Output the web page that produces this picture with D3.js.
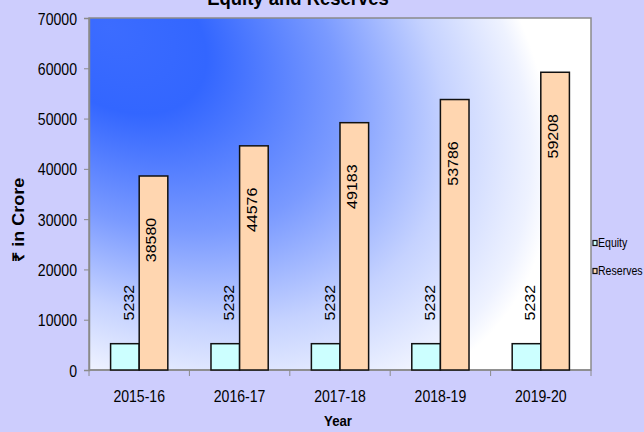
<!DOCTYPE html>
<html>
<head>
<meta charset="utf-8">
<script src="https://cdn.jsdelivr.net/npm/d3@7"></script>
<style>
  body { margin: 0; background: #cdcdfd; }
  text { font-family: 'Liberation Sans', Arial, sans-serif; fill: #000; }
</style>
</head>
<body>
<svg width="644" height="432"></svg>
<script>
const years = ['2015-16', '2016-17', '2017-18', '2018-19', '2019-20'];
const equity = [5232, 5232, 5232, 5232, 5232];
const reserves = [38580, 44576, 49183, 53786, 59208];
const seriesNames = ['Equity', 'Reserves'];
const yTicks = [0, 10000, 20000, 30000, 40000, 50000, 60000, 70000];

const svg = d3.select('svg');
const width = +svg.attr('width');
const height = +svg.attr('height');

// plot area (the source image is a bit squeezed sideways, so text gets scaleX)
const plot = {left: 89, right: 591, top: 18, bottom: 370};
const squeeze = 0.88;
const colors = {Equity: '#ccffff', Reserves: '#ffd6b0'};

const data = years.map((y, i) => ({year: y, Equity: equity[i], Reserves: reserves[i]}));

svg.append('rect')
  .attr('width', width).attr('height', height)
  .attr('fill', '#cdcdfd');

// "from corner" fill of the plot area
const defs = svg.append('defs');
const grad = defs.append('radialGradient')
  .attr('id', 'plotFill')
  .attr('gradientUnits', 'userSpaceOnUse')
  .attr('cx', 0).attr('cy', 0).attr('r', 1)
  .attr('gradientTransform', `translate(${plot.left + 20},${plot.top + 10}) rotate(35) scale(490,330)`);
[[0, '#3c6cff'], [0.22, '#3366ff'], [0.52, '#7a9aff'], [0.76, '#c5d2ff'], [0.95, '#eef2ff'], [1, '#ffffff']]
  .forEach(([o, c]) => grad.append('stop').attr('offset', o).attr('stop-color', c));

svg.append('rect')
  .attr('x', plot.left).attr('y', plot.top)
  .attr('width', plot.right - plot.left).attr('height', plot.bottom - plot.top)
  .attr('fill', 'url(#plotFill)')
  .attr('stroke', '#8a8a8a')
  .attr('stroke-width', 1.5);

const xScale = d3.scaleBand()
  .domain(years)
  .range([plot.left, plot.right])
  .paddingInner(0.43)
  .paddingOuter(0.215);

const xSub = d3.scaleBand()
  .domain(seriesNames)
  .range([0, xScale.bandwidth()]);

const yScale = d3.scaleLinear()
  .domain([0, 70000])
  .range([plot.bottom, plot.top]);

const sText = (sel, x, y, rot) =>
  sel.attr('transform', `translate(${x},${y}) scale(${squeeze},1)` + (rot ? ` rotate(${rot})` : ''));

// y axis
const yAxisG = svg.append('g')
  .attr('transform', `translate(${plot.left},0)`)
  .call(d3.axisLeft(yScale).tickValues(yTicks).tickSize(5).tickPadding(8).tickFormat(d3.format('d')));
yAxisG.select('.domain').attr('stroke', '#8a8a8a').attr('stroke-width', 1.5);
yAxisG.selectAll('.tick line').attr('stroke', '#8a8a8a');
yAxisG.selectAll('.tick text')
  .attr('font-size', 16)
  .attr('x', 0).attr('dy', null).attr('y', 6)
  .attr('transform', `translate(-12,0) scale(${squeeze},1)`);

// x axis: ticks at category boundaries
const step = xScale.step();
const xAxisG = svg.append('g');
xAxisG.append('line')
  .attr('x1', plot.left).attr('x2', plot.right)
  .attr('y1', plot.bottom).attr('y2', plot.bottom)
  .attr('stroke', '#8a8a8a').attr('stroke-width', 1.5);
xAxisG.selectAll('line.tick')
  .data(d3.range(years.length + 1))
  .join('line')
  .attr('class', 'tick')
  .attr('x1', i => plot.left + i * step).attr('x2', i => plot.left + i * step)
  .attr('y1', plot.bottom).attr('y2', plot.bottom + 6)
  .attr('stroke', '#8a8a8a');
xAxisG.selectAll('text')
  .data(years)
  .join('text')
  .attr('font-size', 16)
  .attr('text-anchor', 'middle')
  .text(d => d)
  .each(function(d) { sText(d3.select(this), xScale(d) + xScale.bandwidth() / 2, 402); });

// bars
const groups = svg.append('g')
  .selectAll('g')
  .data(data)
  .join('g')
  .attr('transform', d => `translate(${xScale(d.year)},0)`);

groups.selectAll('rect')
  .data(d => seriesNames.map(k => ({key: k, value: d[k]})))
  .join('rect')
  .attr('x', d => xSub(d.key))
  .attr('y', d => yScale(d.value))
  .attr('width', xSub.bandwidth())
  .attr('height', d => plot.bottom - yScale(d.value))
  .attr('fill', d => colors[d.key])
  .attr('stroke', '#111')
  .attr('stroke-width', 1.5);

// rotated value labels
groups.selectAll('text')
  .data(d => seriesNames.map(k => ({key: k, value: d[k]})))
  .join('text')
  .attr('font-size', 16)
  .attr('text-anchor', 'middle')
  .attr('dy', '0.35em')
  .text(d => d.value)
  .each(function(d) {
    const cx = xSub(d.key) + xSub.bandwidth() / 2 + (d.key === 'Equity' ? 4 : -2);
    const cy = d.key === 'Equity' ? yScale(d.value) - 41 : yScale(d.value) + 64;
    sText(d3.select(this), cx, cy, -90);
  });

// title (cut at the top edge, as in the source) and axis labels
svg.append('text')
  .attr('font-size', 21).attr('font-weight', 'bold')
  .attr('text-anchor', 'middle')
  .text('Equity and Reserves')
  .call(s => sText(s, 298, 5));

svg.append('text')
  .attr('font-size', 15).attr('font-weight', 'bold')
  .attr('text-anchor', 'middle')
  .text('Year')
  .call(s => sText(s, 338, 426));

svg.append('text')
  .attr('font-size', 18).attr('font-weight', 'bold')
  .attr('text-anchor', 'middle')
  .attr('dy', '0.35em')
  .text('₹ in Crore')
  .call(s => sText(s, 18, 220, -90));

// legend
const legend = svg.append('g')
  .selectAll('g')
  .data(seriesNames)
  .join('g')
  .attr('transform', (d, i) => `translate(593,${243 + i * 28})`);
legend.append('rect')
  .attr('x', 0).attr('y', -2.5)
  .attr('width', 4).attr('height', 5)
  .attr('fill', d => colors[d])
  .attr('stroke', '#111').attr('stroke-width', 1.2);
legend.append('text')
  .attr('font-size', 12)
  .attr('dy', '0.35em')
  .text(d => d)
  .attr('transform', `translate(5,0) scale(${squeeze},1)`);
</script>
</body>
</html>
